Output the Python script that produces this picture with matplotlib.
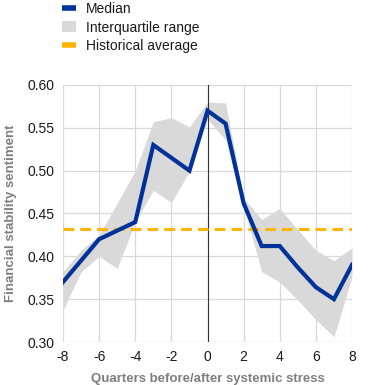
import matplotlib
matplotlib.use("Agg")
import matplotlib.pyplot as plt
from matplotlib.patches import Patch
from matplotlib.lines import Line2D

plt.rcParams["font.family"] = ["Liberation Sans", "DejaVu Sans"]
plt.rcParams["axes.unicode_minus"] = False

quarters = list(range(-8, 9))
median = [0.370, 0.395, 0.420, 0.430, 0.440, 0.530, 0.515, 0.500, 0.570,
          0.555, 0.462, 0.412, 0.412, 0.387, 0.364, 0.350, 0.390]
iqr_high = [0.382, 0.407, 0.425, 0.462, 0.500, 0.557, 0.562, 0.551, 0.580,
            0.579, 0.468, 0.443, 0.456, 0.431, 0.407, 0.395, 0.410]
iqr_low = [0.337, 0.382, 0.400, 0.386, 0.440, 0.477, 0.463, 0.499, 0.560,
           0.536, 0.458, 0.382, 0.370, 0.349, 0.326, 0.306, 0.376]
hist_avg = 0.432

C_MED, C_IQR, C_AVG = "#003299", "#d9d9d9", "#ffb400"
fg = "#1a1a1a"
lab = "#7f7f7f"

fig = plt.figure(figsize=(3.7, 3.85), dpi=100)
ax = fig.add_axes([63 / 370, 1 - 342 / 385, 289 / 370, 257 / 385])

ax.fill_between(quarters, iqr_low, iqr_high, color=C_IQR, lw=0, zorder=1)
ax.axvline(0, color="#333333", lw=0.8, zorder=2)
ax.axhline(hist_avg, color=C_AVG, lw=2.2, ls=(0, (3.5, 2)), zorder=3)
ax.plot(quarters, median, color=C_MED, lw=3, zorder=4, solid_joinstyle="miter")

ax.set_xlim(-8, 8)
ax.set_ylim(0.30, 0.60)
ax.set_xticks(range(-8, 9, 2))
ax.set_yticks([0.30, 0.35, 0.40, 0.45, 0.50, 0.55, 0.60])
ax.set_yticklabels([f"{v:.2f}" for v in ax.get_yticks()])
ax.grid(True, color="#d9d9d9", lw=0.9, zorder=0)
ax.set_axisbelow(True)
for sp in ax.spines.values():
    sp.set_visible(False)
ax.tick_params(length=0, labelsize=10, colors=fg, pad=6)

ax.set_xlabel("Quarters before/after systemic stress", color=lab,
              fontsize=9.5, fontweight="bold", labelpad=6)
ax.set_ylabel("Financial stability sentiment", color=lab,
              fontsize=9.5, fontweight="bold", labelpad=8)

handles = [
    Line2D([0], [0], color=C_MED, lw=4, solid_capstyle="butt"),
    Patch(facecolor=C_IQR, edgecolor="none"),
    Line2D([0], [0], color=C_AVG, lw=4, solid_capstyle="butt"),
]
fig.legend(handles, ["Median", "Interquartile range", "Historical average"],
           loc="upper left", bbox_to_anchor=(0.135, 1.026), frameon=False,
           fontsize=10, handlelength=0.95, handleheight=0.85,
           handletextpad=0.75, labelspacing=0.3, labelcolor=fg)

fig.savefig("out.png", dpi=100)
